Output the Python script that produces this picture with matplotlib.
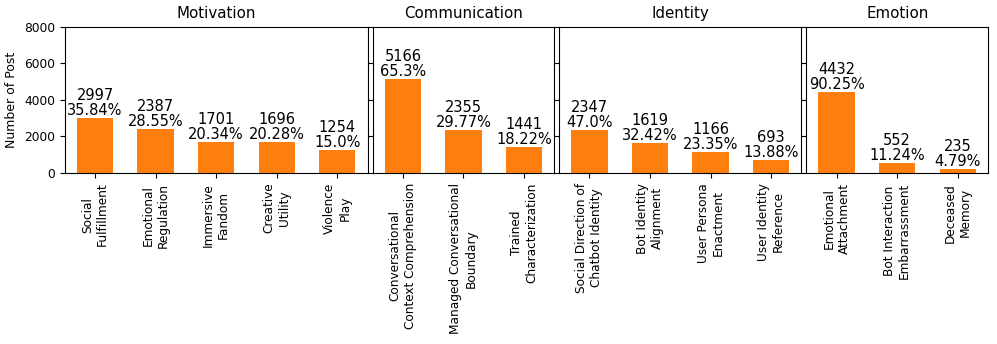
import matplotlib.pyplot as plt
import numpy as np

# ==========================================
# DATA
# ==========================================
groups = ['Motivation', 'Communication', 'Identity', 'Emotion']

labels = [
    ['Social\nFulfillment', 'Emotional\nRegulation', 'Immersive\nFandom',
     'Creative\nUtility', 'Violence\nPlay'],
    ['Conversational\nContext Comprehension', 'Managed Conversational\nBoundary',
     'Trained\nCharacterization'],
    ['Social Direction of\nChatbot Identity', 'Bot Identity\nAlignment',
     'User Persona\nEnactment', 'User Identity\nReference'],
    ['Emotional\nAttachment', 'Bot Interaction\nEmbarrassment', 'Deceased\nMemory'],
]

counts = [
    [2997, 2387, 1701, 1696, 1254],
    [5166, 2355, 1441],
    [2347, 1619, 1166, 693],
    [4432, 552, 235],
]

percents = [
    ['35.84%', '28.55%', '20.34%', '20.28%', '15.0%'],
    ['65.3%', '29.77%', '18.22%'],
    ['47.0%', '32.42%', '23.35%', '13.88%'],
    ['90.25%', '11.24%', '4.79%'],
]

# ==========================================
# PLOTTING
# ==========================================
fig, axes = plt.subplots(1, 4, figsize=(9.97, 3.44), sharey=True,
                         gridspec_kw={'width_ratios': [len(c) for c in counts]})
fig.subplots_adjust(left=0.065, right=0.991, top=0.922, bottom=0.497, wspace=0.022)

for ax, title, labs, vals, pcts in zip(axes, groups, labels, counts, percents):
    x = np.arange(len(vals))
    bars = ax.bar(x, vals, width=0.6, color='#ff7f0e')
    ax.set_title(title, fontsize=10.8)
    ax.set_xticks(x)
    ax.set_xticklabels(labs, rotation=90, fontsize=8.7)
    ax.set_xlim(-0.5, len(vals) - 0.5)
    for bar, v, p in zip(bars, vals, pcts):
        ax.text(bar.get_x() + bar.get_width() / 2, v, f'{v}\n{p}',
                ha='center', va='bottom', fontsize=10.5, linespacing=1.0)

axes[0].set_ylim(0, 8000)
axes[0].set_yticks([0, 2000, 4000, 6000, 8000])
axes[0].tick_params(axis='y', labelsize=8.8)
axes[0].set_ylabel('Number of Post', fontsize=9)

plt.savefig('out.png', dpi=100)
